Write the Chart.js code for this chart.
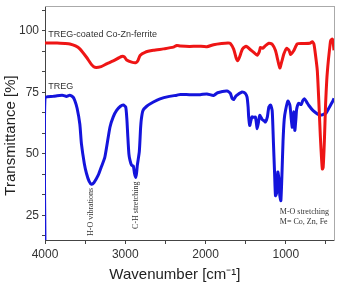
<!DOCTYPE html>
<html>
<head>
<meta charset="utf-8">
<script src="https://cdn.jsdelivr.net/npm/chart.js@4"></script>
<style>
  html, body { margin: 0; padding: 0; background: #fff; }
  #ftir { display: block; }
</style>
</head>
<body>
<canvas id="ftir" width="337" height="285"></canvas>
<script>
// FTIR spectra
const coatedWavenumber = [4000, 3850, 3750, 3690, 3620, 3566, 3483, 3420, 3379, 3300, 3233, 3150, 3045, 3010, 2983, 2921, 2866, 2840, 2816, 2754, 2650, 2525, 2400, 2358, 2316, 2200, 2100, 1983, 1900, 1800, 1720, 1691, 1650, 1620, 1600, 1580, 1540, 1500, 1483, 1450, 1400, 1358, 1330, 1316, 1290, 1254, 1212, 1170, 1129, 1100, 1075, 1050, 1025, 991, 960, 941, 920, 900, 858, 800, 700, 670, 650, 630, 608, 590, 570, 555, 545, 535, 520, 505, 490, 470, 450, 441, 421, 410, 400]
const coatedT = [95.0, 95.0, 94.8, 94.6, 93.8, 92.6, 89.2, 86.2, 85.1, 85.4, 86.5, 87.7, 89.5, 89.3, 88.1, 87.2, 87.0, 88.0, 89.9, 91.2, 92.0, 92.6, 93.3, 94.0, 93.8, 93.6, 93.7, 93.5, 94.3, 94.8, 95.0, 94.8, 92.5, 89.0, 87.8, 89.0, 92.5, 93.6, 93.5, 92.5, 91.2, 90.0, 91.5, 93.2, 92.8, 93.9, 94.9, 94.5, 91.9, 88.0, 84.8, 87.5, 90.5, 92.8, 92.0, 90.3, 91.0, 91.9, 94.6, 94.8, 94.9, 95.5, 94.5, 90.0, 83.8, 72.0, 57.0, 48.0, 43.8, 44.5, 55.0, 70.0, 80.0, 88.0, 94.0, 96.0, 96.6, 95.0, 92.0]

const tregWavenumber = [4000, 4000, 3900, 3850, 3771, 3733, 3691, 3650, 3629, 3600, 3566, 3546, 3510, 3483, 3450, 3420, 3390, 3337, 3300, 3254, 3191, 3150, 3108, 3060, 3025, 2995, 2980, 2970, 2955, 2941, 2921, 2900, 2885, 2871, 2860, 2850, 2825, 2810, 2800, 2780, 2733, 2650, 2567, 2450, 2358, 2316, 2200, 2067, 1983, 1900, 1850, 1733, 1691, 1670, 1650, 1620, 1545, 1504, 1483, 1470, 1463, 1450, 1435, 1421, 1400, 1379, 1365, 1358, 1345, 1325, 1296, 1275, 1254, 1230, 1212, 1190, 1170, 1155, 1140, 1129, 1115, 1100, 1087, 1075, 1062, 1050, 1035, 1020, 1004, 975, 950, 935, 921, 910, 900, 888, 875, 866, 850, 838, 808, 790, 767, 740, 713, 660, 608, 570, 546, 500, 463, 421, 400]
const tregT = [10, 72.7, 73.3, 73.6, 73.7, 73.3, 73.8, 73.0, 71.6, 68.5, 62.0, 54.0, 46.0, 42.0, 38.8, 37.6, 38.3, 41.3, 44.5, 48.7, 60.8, 65.0, 67.6, 69.3, 69.8, 69.0, 64.0, 58.0, 50.0, 47.3, 45.3, 45.0, 42.0, 40.4, 42.0, 45.3, 51.0, 60.0, 64.0, 67.5, 69.3, 71.0, 72.3, 73.3, 73.8, 74.1, 74.0, 74.0, 74.3, 73.7, 74.8, 75.5, 74.5, 72.5, 72.0, 73.5, 75.1, 74.5, 73.0, 69.0, 65.0, 61.5, 63.5, 65.0, 64.8, 64.9, 62.0, 60.2, 62.0, 65.6, 64.0, 63.5, 62.9, 65.0, 68.9, 69.8, 67.5, 55.0, 42.0, 33.0, 34.0, 42.6, 40.0, 33.0, 31.0, 40.0, 55.0, 64.0, 67.6, 71.4, 69.8, 65.0, 60.8, 64.0, 67.0, 59.5, 64.0, 68.0, 70.0, 70.5, 70.0, 71.5, 72.3, 71.0, 69.6, 67.5, 66.2, 65.8, 65.8, 66.5, 68.6, 71.0, 72.5]

// axis ticks
const xTicks = [4000, 3500, 3000, 2500, 2000, 1500, 1000, 500]
const xLabels = [4000, 3000, 2000, 1000]
const yTicks = [16.67, 25, 33.33, 41.67, 50, 58.33, 66.67, 75, 83.33, 91.67, 100, 108.33]
const yLabels = [25, 50, 75, 100]

// text notes, placed in data units (wavenumber, transmittance)
const notes = [
  { text: "TREG-coated Co-Zn-ferrite", x: 3958, y: 98.4, rotate: false, serif: false },
  { text: "TREG", x: 3958, y: 77.3, rotate: false, serif: false },
  { text: "H-O vibrations", x: 3429, y: 26.4, rotate: true, serif: true },
  { text: "C-H stretching", x: 2866, y: 29.1, rotate: true, serif: true },
  { text: "M-O stretching", x: 1075, y: 26.4, rotate: false, serif: true },
  { text: "M= Co, Zn, Fe", x: 1075, y: 22.3, rotate: false, serif: true },
]

const toPoints = (xs, ys) => xs.map((x, i) => ({ x: x, y: ys[i] }))

const notesPlugin = {
  id: "notes",
  afterDatasetsDraw(chart) {
    const ctx = chart.ctx
    const xs = chart.scales.x
    const ys = chart.scales.y
    ctx.save()
    notes.forEach((n) => {
      const px = xs.getPixelForValue(n.x)
      const py = ys.getPixelForValue(n.y)
      ctx.fillStyle = "#333"
      ctx.textBaseline = "middle"
      if (n.serif) {
        ctx.font = "8px 'Liberation Serif', 'DejaVu Serif', serif"
      } else {
        ctx.font = "9px 'Liberation Sans', Arial, sans-serif"
      }
      if (n.rotate) {
        ctx.save()
        ctx.translate(px, py)
        ctx.rotate(-Math.PI / 2)
        ctx.textAlign = "center"
        ctx.fillText(n.text, 0, 0)
        ctx.restore()
      } else {
        ctx.textAlign = "left"
        ctx.fillText(n.text, px, py)
      }
    })
    ctx.restore()
  },
}

const sans = "'Liberation Sans', Arial, sans-serif"
const nb = "\u00a0"

// fixed axis sizes so the plot area sits where the reference has it
function fixSize(scale, w, h) {
  if (w !== null) scale.width = w
  if (h !== null) scale.height = h
  scale.paddingTop = 0
  scale.paddingBottom = 0
  scale.paddingLeft = 0
  scale.paddingRight = 0
}

new Chart(document.getElementById("ftir"), {
  type: "line",
  data: {
    datasets: [
      {
        label: "TREG-coated Co-Zn-ferrite",
        data: toPoints(coatedWavenumber, coatedT),
        borderColor: "#ee1515",
        borderWidth: 3,
        pointRadius: 0,
        tension: 0.2,
      },
      {
        label: "TREG",
        data: toPoints(tregWavenumber, tregT),
        borderColor: "#1414dc",
        borderWidth: 3,
        pointRadius: 0,
        tension: 0.2,
      },
    ],
  },
  options: {
    responsive: false,
    animation: false,
    devicePixelRatio: 1,
    layout: { padding: { top: 6, right: 3, left: 0, bottom: 0 } },
    plugins: {
      legend: { display: false },
      tooltip: { enabled: false },
    },
    scales: {
      x: {
        type: "linear",
        reverse: true,
        min: 400,
        max: 4000,
        afterBuildTicks: (scale) => {
          scale.ticks = xTicks.map((v) => ({ value: v }))
        },
        afterFit: (scale) => fixSize(scale, null, 45),
        ticks: {
          autoSkip: false,
          maxRotation: 0,
          padding: 3,
          color: "#333",
          font: { family: sans, size: 12 },
          callback: (v) => (xLabels.includes(v) ? String(v) : ""),
        },
        grid: { drawOnChartArea: false, tickLength: 4, tickColor: "#444" },
        border: { color: "#444", width: 1 },
        title: {
          display: true,
          text: "Wavenumber [cm⁻¹]" + nb.repeat(7),
          color: "#222",
          font: { family: sans, size: 15 },
          padding: 1,
        },
      },
      y: {
        min: 15,
        max: 110,
        afterBuildTicks: (scale) => {
          scale.ticks = yTicks.map((v) => ({ value: v }))
        },
        afterFit: (scale) => fixSize(scale, 45, null),
        ticks: {
          autoSkip: false,
          padding: 3,
          color: "#333",
          font: { family: sans, size: 12 },
          callback: (v) => (yLabels.includes(v) ? String(v) : ""),
        },
        grid: { drawOnChartArea: false, tickLength: 3, tickColor: "#444" },
        border: { color: "#444", width: 1 },
        title: {
          display: true,
          text: "Transmittance [%]" + nb.repeat(6),
          color: "#222",
          font: { family: sans, size: 15 },
          padding: 2,
        },
      },
      xTop: {
        type: "linear",
        position: "top",
        min: 400,
        max: 4000,
        afterFit: (scale) => fixSize(scale, null, 0),
        ticks: { display: false },
        grid: { display: false, drawTicks: false },
        border: { color: "#aaa", width: 1 },
      },
      yRight: {
        type: "linear",
        position: "right",
        min: 15,
        max: 110,
        afterFit: (scale) => fixSize(scale, 0, null),
        ticks: { display: false },
        grid: { display: false, drawTicks: false },
        border: { color: "#aaa", width: 1 },
      },
    },
  },
  plugins: [notesPlugin],
})
</script>
</body>
</html>
